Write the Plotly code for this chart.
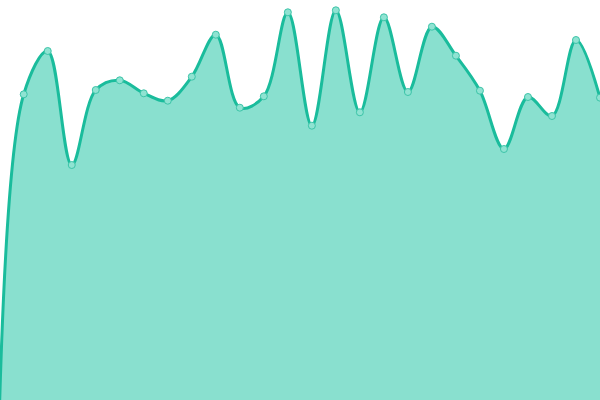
import plotly.graph_objects as go

x_index = list(range(26))
values = [0, 305.7, 349, 235, 310, 319.7, 306.7, 299.3, 323.3, 365.3, 292.3, 303.7,
          387.7, 274.3, 389.7, 287.7, 382.7, 308, 373.3, 344.3, 309.3, 251, 303, 284,
          360, 302.3]

fig = go.Figure()
fig.add_trace(go.Scatter(
    x=x_index, y=values, mode="lines+markers",
    line=dict(shape="spline", smoothing=1, color="#1abc9c", width=3),
    fill="tozeroy", fillcolor="#89e0cf",
    marker=dict(size=7, color="#8fe3d2", line=dict(color="#3cc4a8", width=1)),
    hoverinfo="skip", showlegend=False, cliponaxis=False,
))
fig.update_layout(
    width=600, height=400, margin=dict(l=0, r=0, t=0, b=0),
    paper_bgcolor="white", plot_bgcolor="white",
    xaxis=dict(range=[0.012, 25], visible=False, fixedrange=True),
    yaxis=dict(range=[0, 400], visible=False, fixedrange=True),
)
fig.write_html("out.html", config={"displayModeBar": False},
               post_script="document.body.style.margin='0';")
